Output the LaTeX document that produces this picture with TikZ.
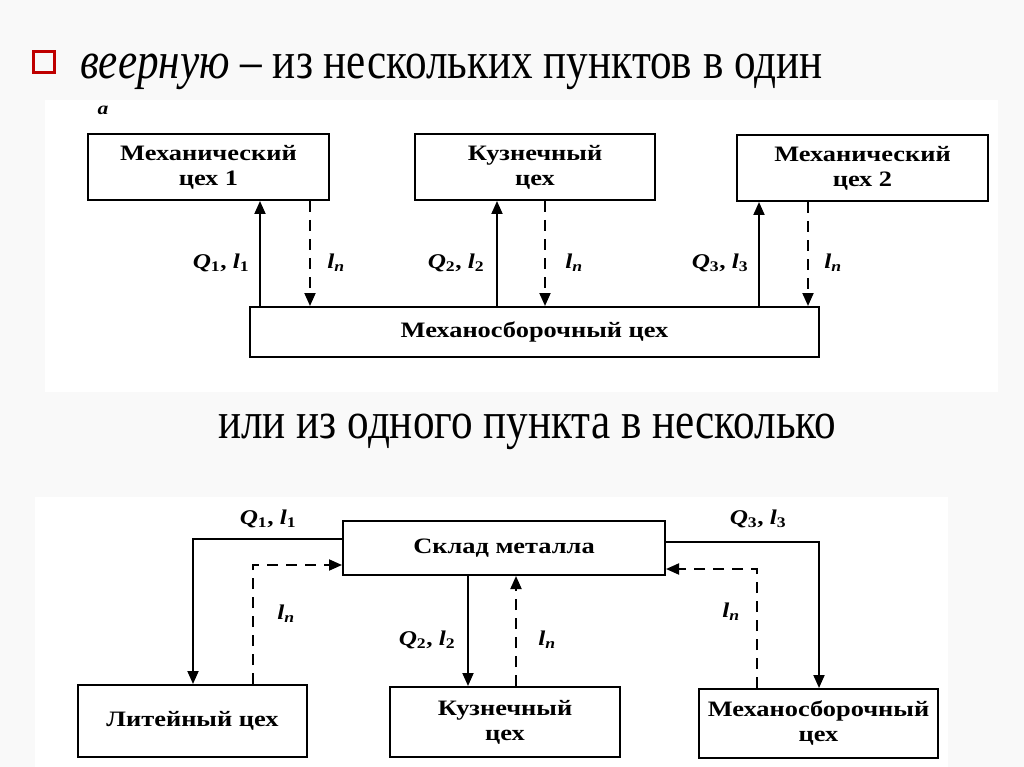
\documentclass[tikz,border=0pt]{standalone}
\usepackage{fontspec}
\setmainfont{Liberation Serif}
\newfontfamily\titlefont[FakeStretch=0.83]{Liberation Serif}
\newfontfamily\diafont[FakeStretch=1.2]{Liberation Serif}
\usetikzlibrary{arrows.meta}
\begin{document}
\begin{tikzpicture}[x=1pt,y=-1pt,
  box/.style={draw, line width=2pt, inner sep=0pt, align=center,
    font=\diafont\bfseries\fontsize{22}{25}\selectfont},
  flow/.style={line width=1.9pt, -{Triangle[length=13pt,width=11pt]}},
  emptyrun/.style={flow, dash pattern=on 11pt off 8pt},
  lab/.style={inner sep=0pt, font=\diafont\bfseries\fontsize{21}{22}\selectfont},
  heading/.style={anchor=base west, inner sep=0pt, font=\titlefont\fontsize{52}{52}\selectfont}]
% background and panels
\fill[gray!5] (0,0) rectangle (1024,767);
\fill[white] (45,100) rectangle (998,392);
\fill[white] (35,497) rectangle (948,767);
\useasboundingbox (0,0) rectangle (1024,767);
% headings
\node[draw=red!75!black, line width=3pt, minimum size=21pt, inner sep=0pt] (bullet) at (44,62) {};
\node[heading] (h1) at (80,79) {\textit{веерную} – из нескольких пунктов в один};
\node[heading] (h2) at (218,438) {или из одного пункта в несколько};
% ---------- top diagram ----------
\node[lab, font=\diafont\bfseries\itshape\fontsize{18}{18}\selectfont] (a) at (103,110) {а};
\node[box, minimum width=241pt, minimum height=66pt] (m1) at (208.5,167) {Механический\\цех 1};
\node[box, minimum width=240pt, minimum height=66pt] (k1) at (535,167) {Кузнечный\\цех};
\node[box, minimum width=251pt, minimum height=66pt] (m2) at (862.5,168) {Механический\\цех 2};
\node[box, minimum width=569pt, minimum height=50pt] (ms) at (534.5,332) {Механосборочный цех};
\coordinate (x1) at (260,0);
\coordinate (x2) at (310,0);
\coordinate (x3) at (497,0);
\coordinate (x4) at (545,0);
\coordinate (x5) at (759,0);
\coordinate (x6) at (808,0);
\draw[flow] (ms.north -| x1) -- (m1.south -| x1);
\draw[emptyrun] (m1.south -| x2) -- (ms.north -| x2);
\draw[flow] (ms.north -| x3) -- (k1.south -| x3);
\draw[emptyrun] (k1.south -| x4) -- (ms.north -| x4);
\draw[flow] (ms.north -| x5) -- (m2.south -| x5);
\draw[emptyrun] (m2.south -| x6) -- (ms.north -| x6);
\node[lab] (q1) at (221,263) {\textit{Q}\textsubscript{1}, \textit{l}\textsubscript{1}};
\node[lab] (n1) at (336,263) {\textit{l}\textsubscript{\itshape п}};
\node[lab] (q2) at (456,263) {\textit{Q}\textsubscript{2}, \textit{l}\textsubscript{2}};
\node[lab] (n2) at (574,263) {\textit{l}\textsubscript{\itshape п}};
\node[lab] (q3) at (720,263) {\textit{Q}\textsubscript{3}, \textit{l}\textsubscript{3}};
\node[lab] (n3) at (833,263) {\textit{l}\textsubscript{\itshape п}};
% ---------- bottom diagram ----------
\node[box, minimum width=322pt, minimum height=54pt] (sk) at (504,548) {Склад металла};
\node[box, minimum width=229pt, minimum height=72pt] (lit) at (192.5,721) {Литейный цех};
\node[box, minimum width=230pt, minimum height=70pt] (kz) at (505,722) {Кузнечный\\цех};
\node[box, minimum width=239pt, minimum height=69pt] (mb) at (818.5,723.5) {Механосборочный\\цех};
\coordinate (c1) at (193,539);
\coordinate (c2) at (253,565);
\coordinate (c3) at (468,0);
\coordinate (c4) at (516,0);
\coordinate (c5) at (819,542);
\coordinate (c6) at (757,569);
\draw[flow] (sk.west |- c1) -| (lit.north -| c1);
\draw[emptyrun] (lit.north -| c2) |- (sk.west |- c2);
\draw[flow] (sk.south -| c3) -- (kz.north -| c3);
\draw[emptyrun] (kz.north -| c4) -- (sk.south -| c4);
\draw[flow] (sk.east |- c5) -| (mb.north -| c5);
\draw[emptyrun] (mb.north -| c6) |- (sk.east |- c6);
\node[lab] (bq1) at (268,519) {\textit{Q}\textsubscript{1}, \textit{l}\textsubscript{1}};
\node[lab] (bn1) at (286,614) {\textit{l}\textsubscript{\itshape п}};
\node[lab] (bq2) at (427,640) {\textit{Q}\textsubscript{2}, \textit{l}\textsubscript{2}};
\node[lab] (bn2) at (547,640) {\textit{l}\textsubscript{\itshape п}};
\node[lab] (bq3) at (758,519) {\textit{Q}\textsubscript{3}, \textit{l}\textsubscript{3}};
\node[lab] (bn3) at (731,612) {\textit{l}\textsubscript{\itshape п}};
\end{tikzpicture}
\end{document}
